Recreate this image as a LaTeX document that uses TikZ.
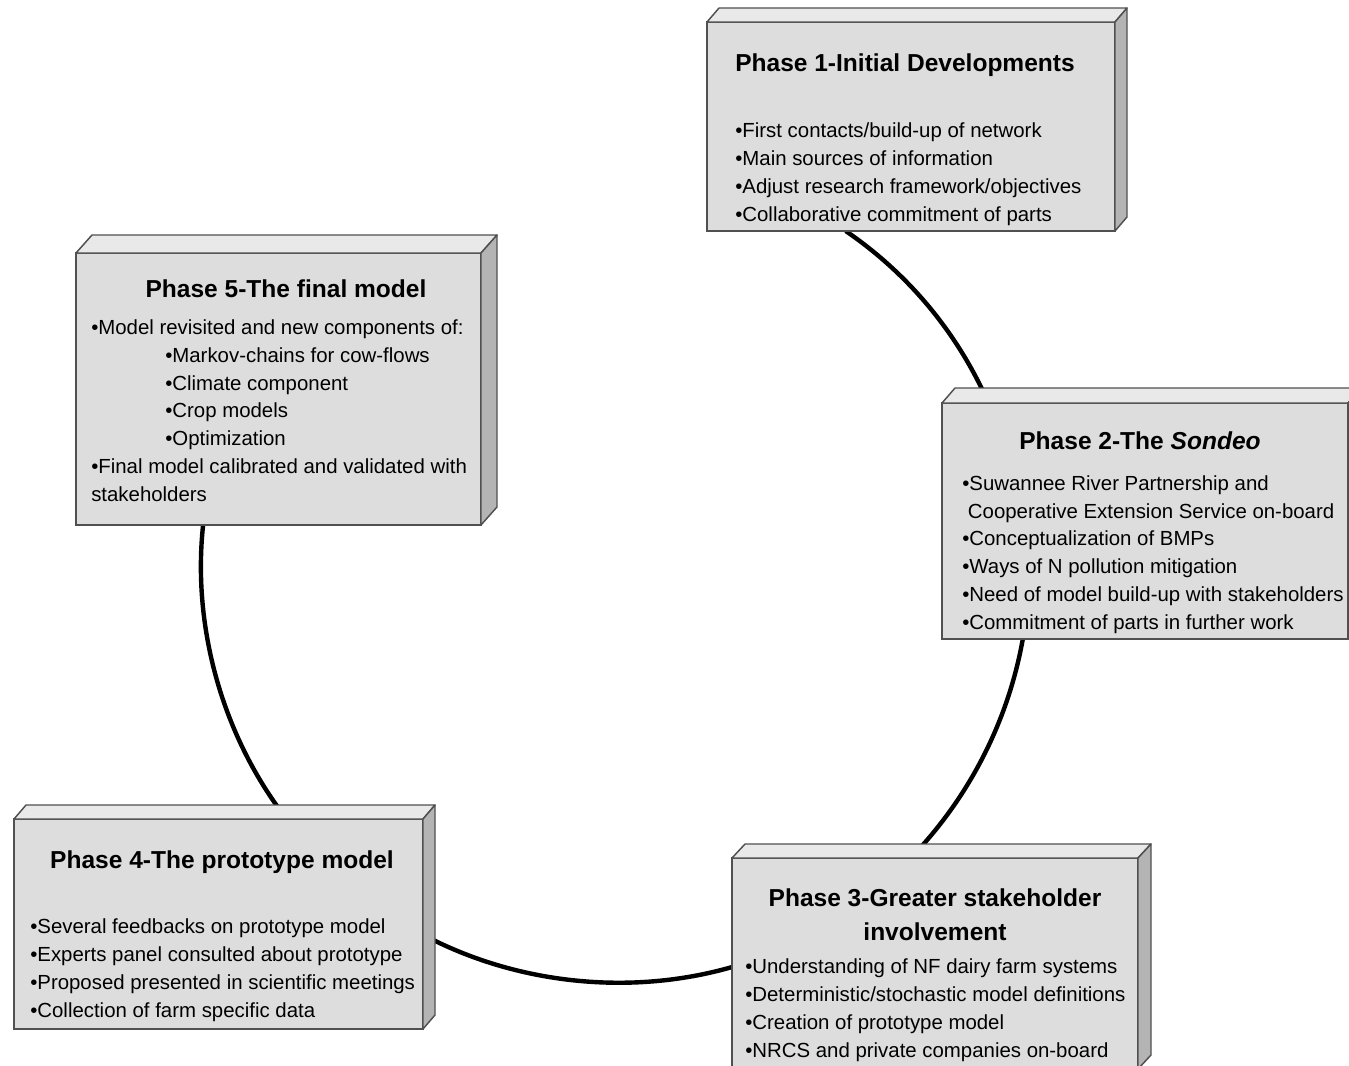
\documentclass[tikz,border=0pt]{standalone}
\usepackage{fontspec}
\setmainfont{Liberation Sans}
\usetikzlibrary{backgrounds}

\definecolor{boxfront}{HTML}{DDDDDD}
\definecolor{boxtop}{HTML}{E9E9E9}
\definecolor{boxside}{HTML}{B4B4B4}
\definecolor{boxline}{HTML}{505050}

\tikzset{phasebox/.style={draw=boxline,line width=1.1pt,fill=boxfront,inner sep=0pt,outer sep=0pt}}
\tikzset{phaseface/.style={draw=boxline,line width=1.1pt,line join=round}}
\tikzset{phasetitle/.style={inner sep=0pt,align=center,font=\fontsize{18.4}{25.5}\selectfont\bfseries}}
\tikzset{phaselist/.style={inner sep=0pt,align=left,font=\fontsize{15.3}{20.8}\selectfont}}
\tikzset{phaselink/.style={line width=3.3pt,looseness=0.87}}

\begin{document}
\begin{tikzpicture}[x=0.75pt,y=-0.75pt]
        \useasboundingbox (0,0) rectangle (1349,1065);
        % the five phase blocks (front faces)
        \node[phasebox,minimum width=306pt,minimum height=156.75pt] (p1) at (911,126.5) {};
        \node[phasebox,minimum width=304.5pt,minimum height=177pt] (p2) at (1145,521) {};
        \node[phasebox,minimum width=304.5pt,minimum height=158.25pt] (p3) at (935,963.5) {};
        \node[phasebox,minimum width=306.75pt,minimum height=157.5pt] (p4) at (218.5,924) {};
        \node[phasebox,minimum width=303.75pt,minimum height=204pt] (p5) at (278.5,389) {};

        % top and right faces
        \foreach \n/\d/\e in {p1/12/14,p2/13/15,p3/13/14,p4/12/14,p5/16/18}{
            \filldraw[phaseface,fill=boxtop] (\n.north west) -- ++(\d,-\e) -- ([shift={(\d,-\e)}]\n.north east) -- (\n.north east) -- cycle;
            \filldraw[phaseface,fill=boxside] (\n.north east) -- ++(\d,-\e) -- ([shift={(\d,-\e)}]\n.south east) -- (\n.south east) -- cycle;
        }

        % titles (base = last line)
        \node[phasetitle,anchor=base west] (t1) at (735,71) {Phase 1-Initial Developments};
        \node[phasetitle,anchor=base] (t2) at (1140,449) {Phase 2-The \textit{Sondeo}};
        \node[phasetitle,anchor=base] (t3) at (935,940) {Phase 3-Greater stakeholder\\involvement};
        \node[phasetitle,anchor=base] (t4) at (222,868) {Phase 4-The prototype model};
        \node[phasetitle,anchor=base] (t5) at (286,297) {Phase 5-The final model};

        % bullet lists
        \node[phaselist,anchor=base west] (l1) at (735,221) {•First contacts/build-up of network\\•Main sources of information\\•Adjust research framework/objectives\\•Collaborative commitment of parts};
        \node[phaselist,anchor=base west] (l2) at (962,629) {•Suwannee River Partnership and\\\hspace*{0.28em}Cooperative Extension Service on-board\\•Conceptualization of BMPs\\•Ways of N pollution mitigation\\•Need of model build-up with stakeholders\\•Commitment of parts in further work};
        \node[phaselist,anchor=base west] (l3) at (745,1057) {•Understanding of NF dairy farm systems\\•Deterministic/stochastic model definitions\\•Creation of prototype model\\•NRCS and private companies on-board};
        \node[phaselist,anchor=base west] (l4) at (30,1017) {•Several feedbacks on prototype model\\•Experts panel consulted about prototype\\•Proposed presented in scientific meetings\\•Collection of farm specific data};
        \node[phaselist,anchor=base west] (l5) at (91,501) {•Model revisited and new components of:\\\hspace*{55.5pt}•Markov-chains for cow-flows\\\hspace*{55.5pt}•Climate component\\\hspace*{55.5pt}•Crop models\\\hspace*{55.5pt}•Optimization\\•Final model calibrated and validated with\\stakeholders};

        % the ring of links between phases
        \begin{scope}[on background layer]
            \draw[phaselink,bend left=16] (p1.238) to (p2.143);
            \draw[phaselink,bend left=17] (p2.224) to (p3.103);
            \draw[phaselink,bend left=22] (p3.181) to (p4.357);
            \draw[phaselink,bend left=22] (p4.57) to (p5.241);
        \end{scope}
\end{tikzpicture}
\end{document}
